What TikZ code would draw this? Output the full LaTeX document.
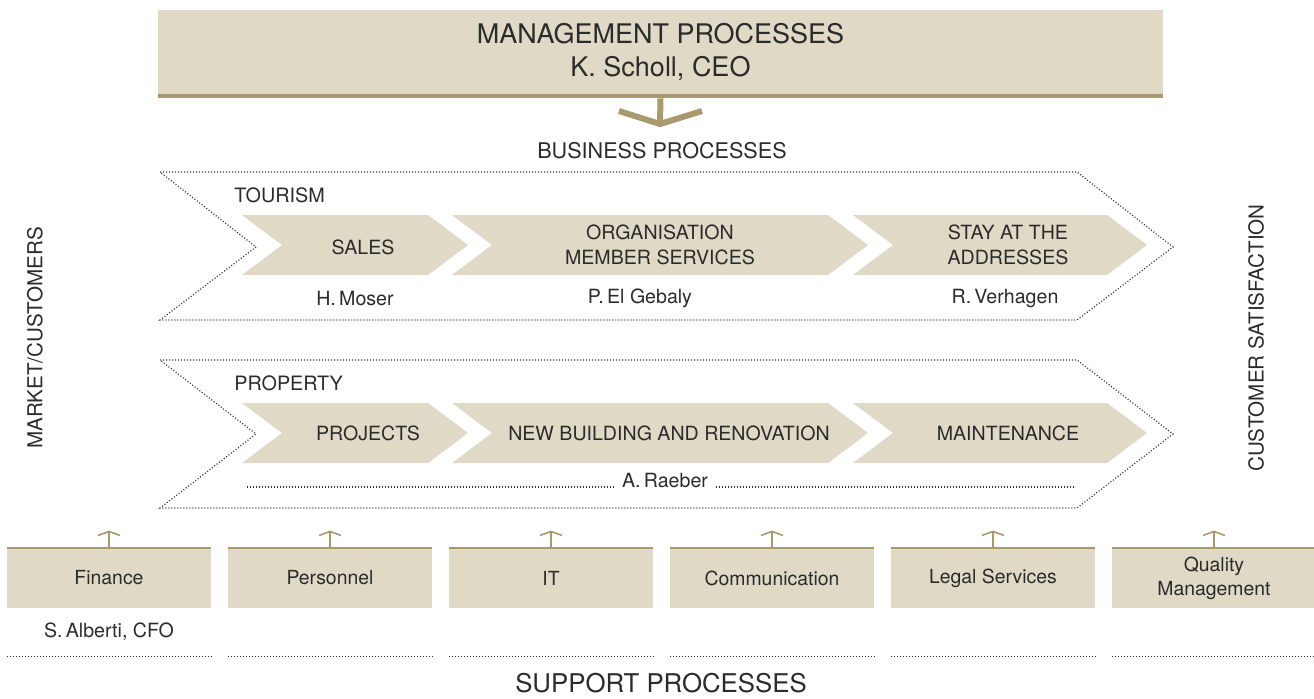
\documentclass[tikz,border=0pt]{standalone}
\usepackage{fontspec}
\setmainfont{TeX Gyre Heros}
\usetikzlibrary{arrows.meta, positioning}

\definecolor{sand}{HTML}{DFD9C6}
\definecolor{khaki}{HTML}{A89A6C}
\definecolor{ink}{HTML}{2B2B2B}

\newcommand{\fsize}[2]{\fontsize{#1}{#2}\selectfont}

\begin{document}
\begin{tikzpicture}[x=0.5pt, y=-0.5pt,
  every node/.style={text=ink, inner sep=0pt},
  mgmtbox/.style={fill=sand, minimum width=502.5pt, minimum height=42pt,
                  align=center, font=\fsize{13.5}{16.5}},
  grouphead/.style={font=\fsize{10.8}{13}},
  grouplabel/.style={anchor=west, font=\fsize{9.9}{12}},
  chevtext/.style={align=center, font=\fsize{9.8}{12.5}},
  nametext/.style={font=\fsize{9.8}{12}},
  sidelabel/.style={rotate=90, font=\fsize{10.3}{12}},
  suppbox/.style={fill=sand, minimum width=102pt, minimum height=30pt,
                  align=center, font=\fsize{9.7}{12}},
  dotline/.style={draw=ink, line width=0.6pt, dash pattern=on 0.5pt off 1pt},
  khakiline/.style={draw=khaki, line width=3pt},
  uparrow/.style={draw=khaki, line width=0.8pt,
                  -{Straight Barb[length=2pt, width=11pt]}}
]
  \useasboundingbox (0,0) rectangle (1314,698);

  % management on top
  \node[mgmtbox] (mgmt) at (660.5,52) {MANAGEMENT PROCESSES\\K.\;Scholl, CEO};
  \draw[khakiline, line width=2pt] ([yshift=-1pt]mgmt.south west) -- ([yshift=-1pt]mgmt.south east);
  \coordinate (vtip) at (660,124);
  \coordinate (vl) at (619,111);
  \coordinate (vr) at (702,111);
  \draw[khakiline] ([yshift=-2pt]mgmt.south) -- (vtip);
  \draw[khakiline] (vl) -- (vtip) -- (vr);

  \node[grouphead] (bp) at (662,151) {BUSINESS PROCESSES};

  % tourism
  \draw[dotline] (160,172) -- (1077,172) -- (1173,247) -- (1077,320) -- (160,320) -- (256,247) -- cycle;
  \node[grouplabel] (tour) at (234,195) {TOURISM};
  \foreach \l/\r in {242/428, 452/828, 853/1107}
    \fill[sand] (\l,215) -- (\r,215) -- (\r+40,245) -- (\r,275) -- (\l,275) -- (\l+40,245) -- cycle;
  \node[chevtext] (sales) at (363,247) {SALES};
  \node[chevtext] (org) at (660,245) {ORGANISATION\\MEMBER SERVICES};
  \node[chevtext] (stay) at (1008,245) {STAY AT THE\\ADDRESSES};
  \node[nametext] (moser) at (355,298) {H.\,Moser};
  \node[nametext] (gebaly) at (640,298) {P.\,El Gebaly};
  \node[nametext] (verhagen) at (1005,298) {R.\,Verhagen};

  % property
  \draw[dotline] (160,360) -- (1077,360) -- (1173,434) -- (1077,508) -- (160,508) -- (256,434) -- cycle;
  \node[grouplabel] (prop) at (234,383) {PROPERTY};
  \foreach \l/\r in {242/428, 452/828, 853/1107}
    \fill[sand] (\l,403) -- (\r,403) -- (\r+40,433) -- (\r,463) -- (\l,463) -- (\l+40,433) -- cycle;
  \node[chevtext] (projects) at (368,433) {PROJECTS};
  \node[chevtext] (newbuild) at (669,433) {NEW BUILDING AND RENOVATION};
  \node[chevtext] (maint) at (1008,433) {MAINTENANCE};
  \node[nametext, anchor=base] (raeber) at (665,487) {A.\,Raeber};
  \coordinate (rl) at (247,487);
  \coordinate (rr) at (1075,487);
  \draw[dotline] (rl) -- ([xshift=-4pt]raeber.base west);
  \draw[dotline] ([xshift=4pt]raeber.base east) -- (rr);

  % left and right
  \node[sidelabel] (market) at (35,338) {MARKET/CUSTOMERS};
  \node[sidelabel] (satisf) at (1256,338) {CUSTOMER SATISFACTION};

  % support row
  \foreach \name/\txt [count=\i from 0] in {fin/Finance, pers/Personnel, it/IT,
      comm/Communication, legal/Legal Services, qual/{Quality\\Management}} {
    \node[suppbox] (\name) at ({109+221*\i},578) {\txt};
    \draw[khaki, line width=1pt] (\name.north west) -- (\name.north east);
    \coordinate (\name-up) at ([yshift=8.5pt]\name.north);
    \draw[uparrow] (\name.north) -- (\name-up);
    \draw[dotline] ([yshift=-24pt]\name.south west) -- ([yshift=-24pt]\name.south east);
  }
  \node[nametext, below=7pt of fin] (alberti) {S.\,Alberti, CFO};

  \node[font=\fsize{12.9}{15}] (supp) at (661,683) {SUPPORT PROCESSES};
\end{tikzpicture}
\end{document}
